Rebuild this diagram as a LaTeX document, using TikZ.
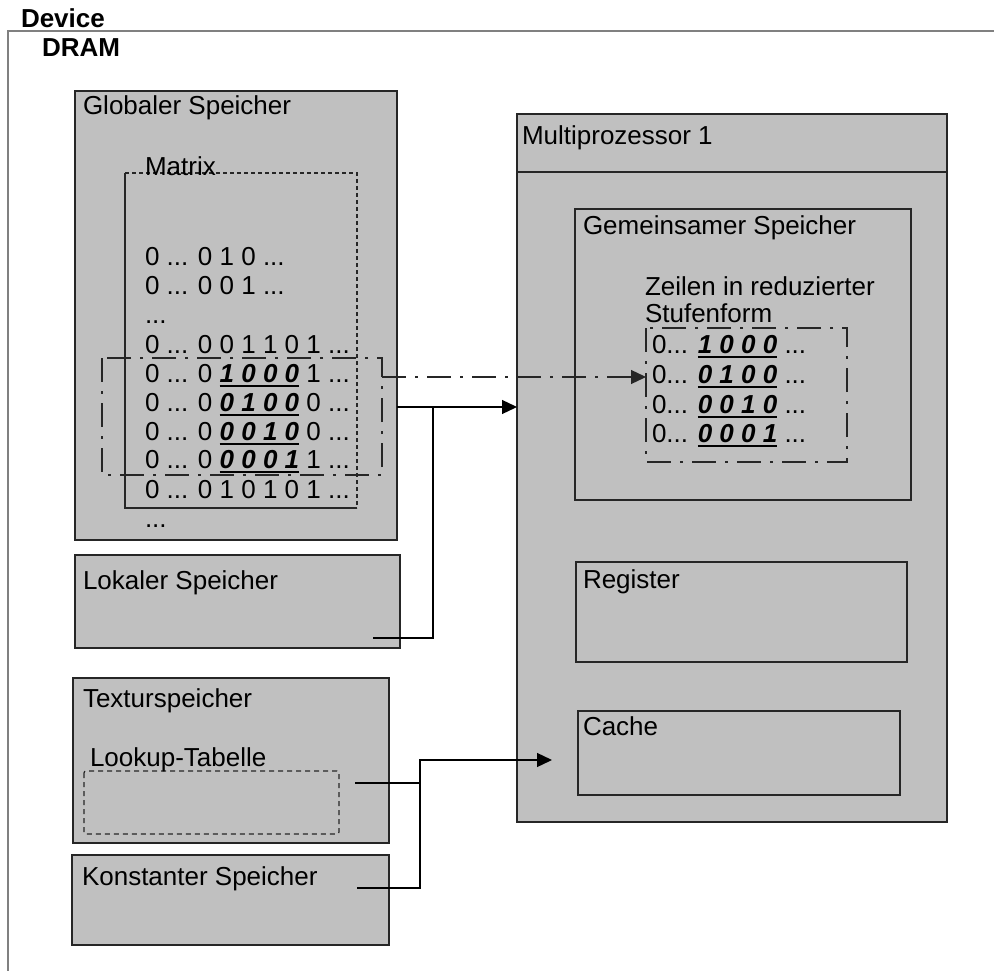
\documentclass[tikz,border=0pt]{standalone}
\usepackage{fontspec}
\setmainfont{Liberation Sans}
\usetikzlibrary{arrows.meta,calc}
\definecolor{boxgray}{RGB}{192,192,192}
\definecolor{framegray}{RGB}{128,128,128}
\newcommand\ulgrp[1]{\setbox0\hbox{#1}\rlap{\rule[-4.5pt]{\wd0}{2pt}}\box0\relax}
\newcommand\bgrp[1]{\ulgrp{\bfseries\itshape #1}}
\begin{document}
\begin{tikzpicture}[x=1pt,y=-1pt,
  every node/.style={inner sep=0pt, outer sep=0pt, font=\fontsize{26}{31}\selectfont},
  box/.style={draw=black!85, line width=1.4pt, fill=boxgray, anchor=north west, rectangle},
  area/.style={anchor=north west, rectangle},
  lbl/.style={anchor=base west},
  conn/.style={draw=black, line width=1.3pt},
  tip/.style={-{Triangle[length=15pt,width=14pt]}},
  ddash/.style={draw=black!85, line width=1.3pt, dash pattern=on 24pt off 9pt on 3pt off 9pt},
  sdash/.style={draw=black!85, line width=1.2pt, dash pattern=on 4pt off 3pt}]
\useasboundingbox (0,0) rectangle (994,971);

% device frame
\coordinate (fr) at (8,31);
\draw[framegray, line width=2pt] (994,31) -- (fr) -- (8,971);
\node[lbl, font=\fontsize{26}{31}\selectfont\bfseries] (device) at (21,28) {Device};
\node[lbl, font=\fontsize{26}{31}\selectfont\bfseries] (dram) at (42,57) {DRAM};

% left boxes
\node[box, minimum width=322pt, minimum height=449pt] (glob) at (75,91) {};
\node[lbl] (globt) at (83,115) {Globaler Speicher};
\node[box, minimum width=325pt, minimum height=93pt] (lokal) at (75,555) {};
\node[lbl] (lokalt) at (83,589) {Lokaler Speicher};
\node[box, minimum width=316pt, minimum height=165pt] (textur) at (73,678) {};
\node[lbl] (texturt) at (83,707) {Texturspeicher};
\node[box, minimum width=317pt, minimum height=90pt] (konst) at (72,855) {};
\node[lbl] (konstt) at (82,885) {Konstanter Speicher};

% lookup table
\node[area, minimum width=255pt, minimum height=63pt] (look) at (84,771) {};
\draw[sdash, dash pattern=on 5pt off 4pt, rounded corners=2pt] (look.north west) rectangle (look.south east);
\node[lbl] (lookt) at (90,766) {Lookup-Tabelle};

% matrix
\node[area, minimum width=232pt, minimum height=335pt] (mat) at (125,173) {};
\draw[black!85, line width=1.3pt] (mat.north west) -- (mat.south west) -- (mat.south east);
\draw[sdash] (mat.north west) -- (mat.north east) -- (mat.south east);
\node[lbl] (matt) at (145,176) {Matrix};
\node[lbl] (m0) at (145,265) {0 ... 0 1 0 ...};
\node[lbl] (m1) at (145,294) {0 ... 0 0 1 ...};
\node[lbl] (m2) at (145,323) {...};
\node[lbl] (m3) at (145,353) {0 ... 0 0 1 1 0 1 ...};
\node[lbl] (m4) at (145,382) {0 ... 0 \bgrp{1 0 0 0} 1 ...};
\node[lbl] (m5) at (145,411) {0 ... 0 \bgrp{0 1 0 0} 0 ...};
\node[lbl] (m6) at (145,440) {0 ... 0 \bgrp{0 0 1 0} 0 ...};
\node[lbl] (m7) at (145,468) {0 ... 0 \bgrp{0 0 0 1} 1 ...};
\node[lbl] (m8) at (145,498) {0 ... 0 1 0 1 0 1 ...};
\node[lbl] (m9) at (145,527) {...};

% dash-dot selection box
\node[area, minimum width=280pt, minimum height=117pt] (dd1) at (102,358) {};
\draw[ddash] (dd1.north west) rectangle (dd1.south east);

% multiprocessor
\node[box, minimum width=430pt, minimum height=708pt] (mp) at (517,114) {};
\draw[black!85, line width=1.4pt] ($(mp.north west)+(0,58)$) -- ($(mp.north east)+(0,58)$);
\node[lbl] (mpt) at (522,145) {Multiprozessor 1};
\node[box, minimum width=336pt, minimum height=291pt] (gem) at (575,209) {};
\node[lbl] (gemt) at (583,234) {Gemeinsamer Speicher};
\node[lbl] (zt1) at (645,295) {Zeilen in reduzierter};
\node[lbl] (zt2) at (645,322) {Stufenform};
\node[area, minimum width=201pt, minimum height=134pt] (dd2) at (646,328) {};
\draw[ddash] (dd2.north west) rectangle (dd2.south east);
\node[lbl] (g0) at (652,353) {0... \bgrp{1 0 0 0} ...};
\node[lbl] (g1) at (652,383) {0... \bgrp{0 1 0 0} ...};
\node[lbl] (g2) at (652,413) {0... \bgrp{0 0 1 0} ...};
\node[lbl] (g3) at (652,442) {0... \bgrp{0 0 0 1} ...};
\node[box, minimum width=331pt, minimum height=100pt] (reg) at (576,562) {};
\node[lbl] (regt) at (583,588) {Register};
\node[box, minimum width=322pt, minimum height=84pt] (cache) at (578,711) {};
\node[lbl] (cachet) at (583,735) {Cache};

% connectors
\coordinate (dy) at (0,377);
\draw[ddash, tip] (dd1.east |- dy) -- (dd2.west |- dy);
\coordinate (j1) at (433,407);
\coordinate (lokalend) at (373,638);
\draw[conn, tip] (glob.east |- j1) -- (mp.west |- j1);
\draw[conn] (lokalend) -| (j1);
\coordinate (j2) at (420,760);
\coordinate (lookend) at (355,783);
\coordinate (konstend) at (357,888);
\draw[conn] (lookend) -- (j2 |- lookend);
\draw[conn, tip, shorten >=26pt] (konstend) -| (j2) -- (cache.west |- j2);
\end{tikzpicture}
\end{document}
